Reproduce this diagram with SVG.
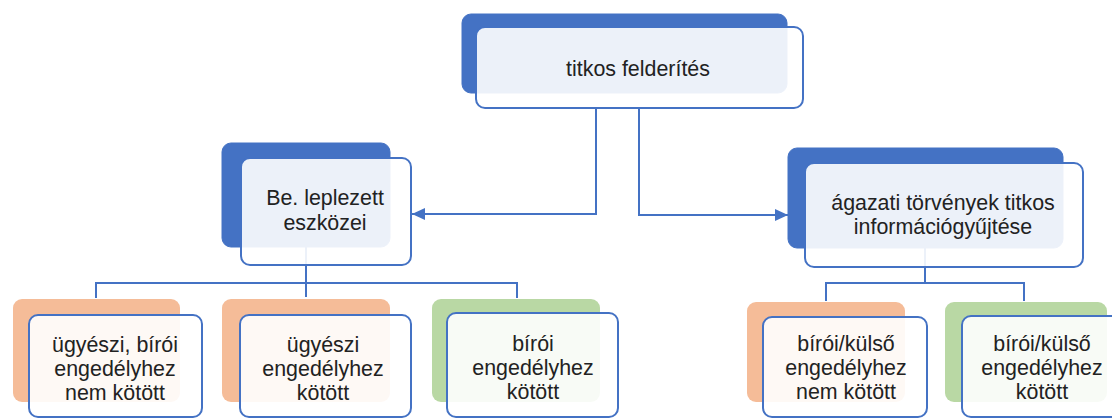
<svg xmlns="http://www.w3.org/2000/svg" width="1112" height="419" viewBox="0 0 1112 419">
<defs>
<marker id="arr" markerUnits="userSpaceOnUse" markerWidth="14" markerHeight="12" refX="13" refY="6" orient="auto">
<path d="M0,0 L13,6 L0,12 Z" fill="#4472c4"/>
</marker>
<style>
.back-blue{fill:#4472c4;stroke:#4472c4;stroke-width:1}
.back-orange{fill:#f5bc98}
.back-green{fill:#b9d8a4}
.front{fill:#ffffff;fill-opacity:0.9;stroke:#4472c4;stroke-width:2}
.conn{fill:none;stroke:#4472c4;stroke-width:2}
.t{font-family:"Liberation Sans",Arial,sans-serif;fill:#222222;text-anchor:middle;font-size:21.4px}
</style>
</defs>
<rect width="1112" height="419" fill="#ffffff"/>
<g id="connectors">
<path class="conn" d="M596,108 V214 H412" marker-end="url(#arr)"/>
<path class="conn" d="M639,108 V215 H788" marker-end="url(#arr)"/>
<path class="conn" d="M306,247 V297"/>
<path class="conn" d="M96,298 V283 H517 V298"/>
<path class="conn" d="M925,248 V283"/>
<path class="conn" d="M826,301 V283 H1024 V301"/>
</g>
<g id="n-top">
<rect class="back-blue" x="462" y="14" width="325" height="79" rx="9"/>
<rect class="front" x="476" y="27" width="327" height="81" rx="9"/>
<text class="t" x="638" y="76">titkos felderítés</text>
</g>
<g id="n-be">
<rect class="back-blue" x="222" y="143" width="168" height="104" rx="9"/>
<rect class="front" x="241" y="158" width="170" height="107" rx="9"/>
<text class="t" x="325" y="205">Be. leplezett</text>
<text class="t" x="325" y="230">eszközei</text>
</g>
<g id="n-agazati">
<rect class="back-blue" x="788" y="148" width="275" height="100" rx="9"/>
<rect class="front" x="805" y="163" width="278" height="104" rx="9"/>
<text class="t" x="943" y="210">ágazati törvények titkos</text>
<text class="t" x="943" y="234">információgyűjtése</text>
</g>
<g id="n-b1">
<rect class="back-orange" x="13" y="299" width="167" height="103" rx="9"/>
<rect class="front" x="29" y="315" width="173" height="102" rx="9"/>
<text class="t" x="115" y="352">ügyészi, bírói</text>
<text class="t" x="115" y="376">engedélyhez</text>
<text class="t" x="115" y="400">nem kötött</text>
</g>
<g id="n-b2">
<rect class="back-orange" x="222" y="299" width="168" height="103" rx="9"/>
<rect class="front" x="240" y="315" width="171" height="102" rx="9"/>
<text class="t" x="323" y="352">ügyészi</text>
<text class="t" x="323" y="376">engedélyhez</text>
<text class="t" x="323" y="400">kötött</text>
</g>
<g id="n-b3">
<rect class="back-green" x="432" y="299" width="168" height="103" rx="9"/>
<rect class="front" x="447" y="313" width="171" height="104" rx="9"/>
<text class="t" x="533" y="351">bírói</text>
<text class="t" x="533" y="375">engedélyhez</text>
<text class="t" x="533" y="399">kötött</text>
</g>
<g id="n-b4">
<rect class="back-orange" x="747" y="302" width="158" height="100" rx="9"/>
<rect class="front" x="763" y="317" width="164" height="100" rx="9"/>
<text class="t" x="846" y="351">bírói/külső</text>
<text class="t" x="846" y="375">engedélyhez</text>
<text class="t" x="846" y="399">nem kötött</text>
</g>
<g id="n-b5">
<rect class="back-green" x="945" y="302" width="162" height="100" rx="9"/>
<rect class="front" x="962" y="316" width="170" height="101" rx="9"/>
<text class="t" x="1042" y="351">bírói/külső</text>
<text class="t" x="1042" y="375">engedélyhez</text>
<text class="t" x="1042" y="399">kötött</text>
</g>
</svg>
